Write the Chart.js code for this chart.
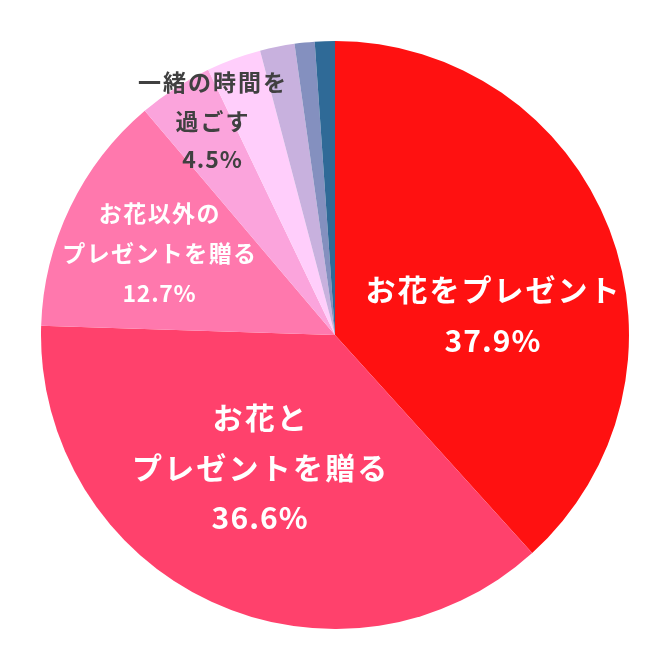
<!DOCTYPE html>
<html>
<head>
<meta charset="utf-8">
<script src="https://cdn.jsdelivr.net/npm/chart.js@4"></script>
<style>
  body { margin: 0; background: #fff; }
</style>
</head>
<body>
<canvas id="chart" width="664" height="664"></canvas>
<script>
// data
let categories = ["お花をプレゼント", "お花とプレゼントを贈る", "お花以外のプレゼントを贈る", "一緒の時間を過ごす", "その他1", "その他2", "その他3", "その他4"];
let shares = [38.3, 37.2, 13.3, 4.1, 3.0, 1.9, 1.1, 1.1];
let labelLines = [
    ["お花をプレゼント", "37.9%"],
    ["お花と", "プレゼントを贈る", "36.6%"],
    ["お花以外の", "プレゼントを贈る", "12.7%"],
    ["一緒の時間を", "過ごす", "4.5%"]
];
let colors = ["#ff1111", "#ff416c", "#ff78ad", "#fba4dc", "#ffcefb", "#c8b1de", "#8490bf", "#2f6a97"];

// label placement: where along the slice, how far out, font size, spacing, line height, colour
let labelStyle = [
    { t: 0.60, f: 0.54, size: 30, sp: 2, lh: 51, color: "#ffffff" },
    { t: 0.535, f: 0.52, size: 30, sp: 2.2, lh: 50, color: "#ffffff" },
    { t: 0.485, f: 0.66, size: 23, sp: 1.4, lh: 40, color: "#ffffff" },
    { t: 0.71, f: 0.84, size: 23, sp: 2, lh: 38.5, color: "#404040" }
];

const sliceLabels = {
    id: "sliceLabels",
    afterDatasetsDraw(chart) {
        let ctx = chart.ctx;
        let arcs = chart.getDatasetMeta(0).data;
        ctx.save();
        ctx.textAlign = "center";
        ctx.textBaseline = "middle";
        labelLines.forEach((lines, i) => {
            let arc = arcs[i];
            let st = labelStyle[i];
            let a = arc.startAngle + st.t * (arc.endAngle - arc.startAngle);
            let r = st.f * arc.outerRadius;
            let cx = arc.x + Math.cos(a) * r;
            let cy = arc.y + Math.sin(a) * r;
            ctx.fillStyle = st.color;
            ctx.font = `bold ${st.size}px "Noto Sans CJK JP", "Noto Sans", sans-serif`;
            let y0 = cy - (lines.length - 1) * st.lh / 2;
            lines.forEach((line, k) => {
                // percent lines are a bit tighter
                let sp = /%$/.test(line) ? st.sp * 0.5 : st.sp;
                ctx.letterSpacing = sp + "px";
                // letterSpacing adds a trailing gap, shift by half of it
                ctx.fillText(line, cx + sp / 2, y0 + k * st.lh);
            });
        });
        ctx.restore();
    }
};

new Chart(document.getElementById("chart"), {
    type: "pie",
    data: {
        labels: categories,
        datasets: [{
            data: shares,
            backgroundColor: colors,
            borderWidth: 0
        }]
    },
    options: {
        responsive: false,
        animation: false,
        layout: {
            padding: { left: 41, top: 41, right: 35, bottom: 35 }
        },
        plugins: {
            legend: { display: false },
            tooltip: { enabled: false }
        }
    },
    plugins: [sliceLabels]
});
</script>
</body>
</html>
